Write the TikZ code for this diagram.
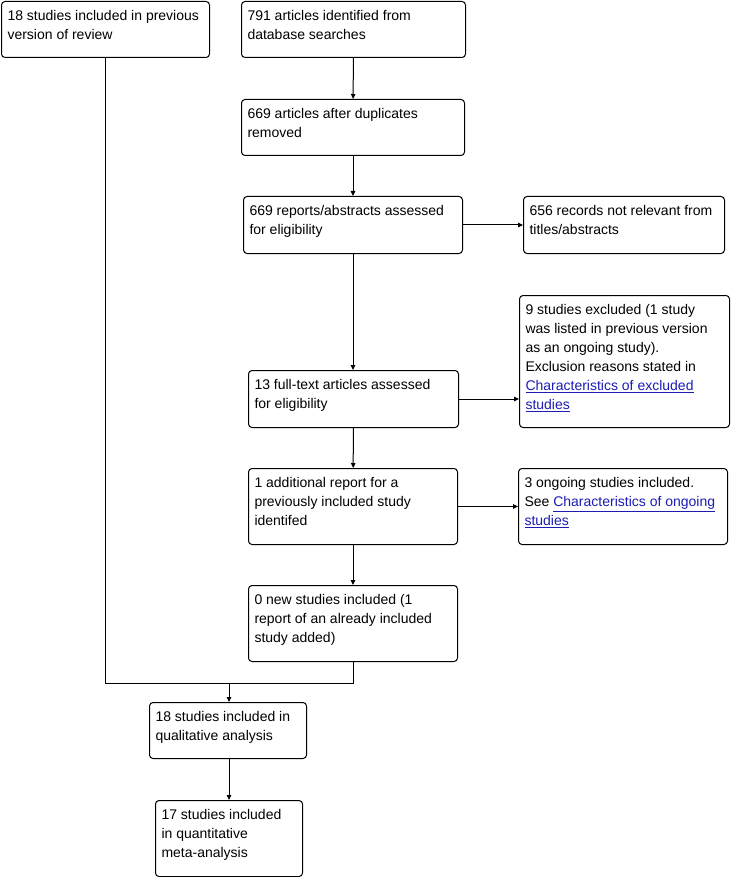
\documentclass[tikz,border=0pt]{standalone}
\usepackage{fontspec}
\setmainfont{Liberation Sans}
\usetikzlibrary{arrows.meta}
\definecolor{linkBlue}{HTML}{1C1CB4}

% box text: width, height (in pt), text
\newcommand{\boxText}[3]{\parbox[t][\dimexpr#2pt-12pt\relax][t]{\dimexpr#1pt-12pt\relax}{\raggedright\strut #3}}
\newcommand{\studyLink}[1]{\textcolor{linkBlue}{\underline{#1}}}

\begin{document}
\begin{tikzpicture}[x=1pt,y=-1pt,
    flowBox/.style={draw=black,line width=1pt,rounded corners=3.5pt,inner sep=6pt,
      anchor=north west,font=\fontsize{14}{19}\selectfont},
    flowArrow/.style={black,line width=1pt,-{Triangle[length=5pt,width=4.5pt]}}]
  \useasboundingbox (0,0) rectangle (731,877);
  % left column and main chain
  \node[flowBox] (prev) at (1,1) {\boxText{208}{56}{18 studies included in previous\\version of review}};
  \node[flowBox] (search) at (241,1) {\boxText{224}{56}{791 articles identified from\\database searches}};
  \node[flowBox] (dedup) at (241,99) {\boxText{223}{56}{669 articles after duplicates\\removed}};
  \node[flowBox] (screen) at (243,196) {\boxText{219}{57}{669 reports/abstracts assessed\\for eligibility}};
  \node[flowBox] (fulltext) at (248,370) {\boxText{210}{57}{13 full-text articles assessed\\for eligibility}};
  \node[flowBox] (extra) at (248,468) {\boxText{209}{76}{1 additional report for a\\previously included study\\identifed}};
  \node[flowBox] (newinc) at (248,585) {\boxText{209}{76}{0 new studies included (1\\report of an already included\\study added)}};
  \node[flowBox] (qual) at (149,702) {\boxText{157}{56}{18 studies included in\\qualitative analysis}};
  \node[flowBox] (quant) at (155,800) {\boxText{147}{76}{17 studies included\\in quantitative\\meta-analysis}};
  % exclusions on the right
  \node[flowBox] (notrel) at (523,196) {\boxText{201}{57}{656 records not relevant from\\titles/abstracts}};
  \node[flowBox] (excl) at (519,295) {\boxText{210}{132}{9 studies excluded (1 study\\was listed in previous version\\as an ongoing study).\\Exclusion reasons stated in\\\studyLink{Characteristics of excluded}\\\studyLink{studies}}};
  \node[flowBox] (ongoing) at (518,468) {\boxText{209}{76}{3 ongoing studies included.\\See \studyLink{Characteristics of ongoing}\\\studyLink{studies}}};
  \coordinate (merge) at (229,683);

  \draw[flowArrow] (search) -- (dedup);
  \draw[flowArrow] (dedup) -- (screen);
  \draw[flowArrow] (screen) -- (screen |- fulltext.north);
  \draw[flowArrow] (fulltext) -- (extra);
  \draw[flowArrow] (extra) -- (newinc);
  \draw[flowArrow] (screen) -- (notrel);
  \draw[flowArrow] (fulltext.east) -- (fulltext.east -| excl.west);
  \draw[flowArrow] (extra) -- (ongoing);
  \draw[line width=1pt] (prev.south) |- (merge);
  \draw[line width=1pt] (newinc.south) |- (merge);
  \draw[flowArrow] (merge) -- (merge |- qual.north);
  \draw[flowArrow] (merge |- qual.south) -- (merge |- quant.north);
\end{tikzpicture}
\end{document}
